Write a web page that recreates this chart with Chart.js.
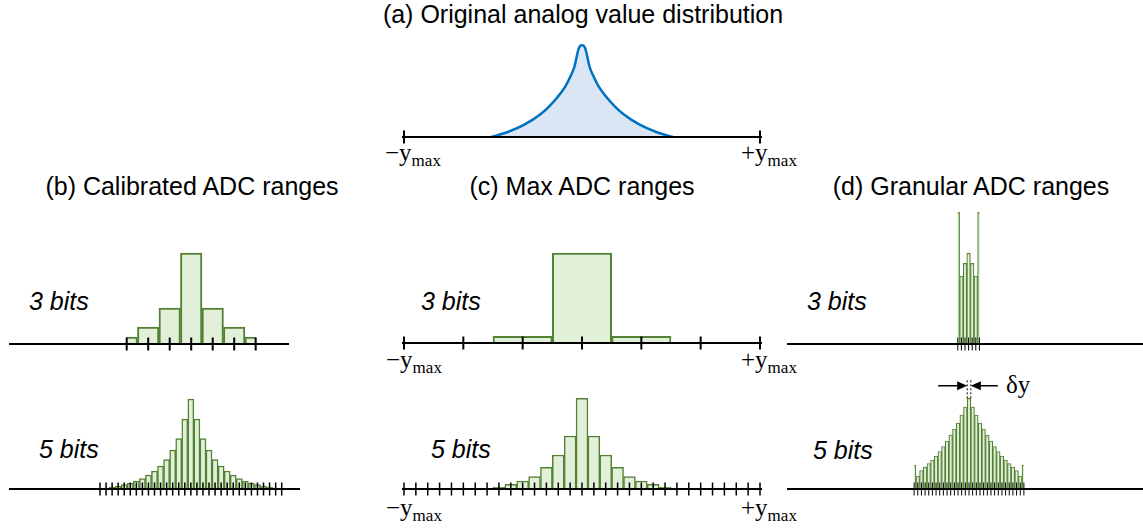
<!DOCTYPE html>
<html>
<head>
<meta charset="utf-8">
<script src="https://cdn.jsdelivr.net/npm/chart.js@4.4.1/dist/chart.umd.min.js"></script>
<style>
  body { margin: 0; background: #fff; }
  #page { position: relative; width: 1143px; height: 529px; overflow: hidden; font-family: "Liberation Sans", Arial, sans-serif; color: #000; }
  .box { position: absolute; }
  .title { position: absolute; font-size: 25px; line-height: 25px; white-space: nowrap; transform: translateX(-50%); }
  .bits { position: absolute; font-size: 25px; line-height: 25px; font-style: italic; white-space: nowrap; }
  .ym { position: absolute; font-family: "Liberation Serif", "Times New Roman", serif; font-size: 25px; line-height: 25px; white-space: nowrap; }
  .ym sub { font-size: 17px; vertical-align: baseline; position: relative; top: 5px; }
</style>
</head>
<body>
<div id="page">
  <div class="title" style="left:583px; top:2px">(a) Original analog value distribution</div>
  <div class="title" style="left:192px; top:174px">(b) Calibrated ADC ranges</div>
  <div class="title" style="left:582px; top:174px">(c) Max ADC ranges</div>
  <div class="title" style="left:971px; top:174px">(d) Granular ADC ranges</div>

  <div class="bits" style="left:29px; top:289px">3 bits</div>
  <div class="bits" style="left:421px; top:289px">3 bits</div>
  <div class="bits" style="left:807px; top:289px">3 bits</div>
  <div class="bits" style="left:39px; top:437px">5 bits</div>
  <div class="bits" style="left:431px; top:437px">5 bits</div>
  <div class="bits" style="left:813px; top:438px">5 bits</div>

  <div class="ym" style="left:385px; top:140px">−y<sub>max</sub></div>
  <div class="ym" style="left:741px; top:140px">+y<sub>max</sub></div>
  <div class="ym" style="left:386px; top:347px">−y<sub>max</sub></div>
  <div class="ym" style="left:741px; top:347px">+y<sub>max</sub></div>
  <div class="ym" style="left:386px; top:495px">−y<sub>max</sub></div>
  <div class="ym" style="left:741px; top:495px">+y<sub>max</sub></div>
  <div class="ym" style="left:1006px; top:372px; font-size:25px">δy</div>

  <div class="box" id="boxA"><canvas id="chartA"></canvas></div>
  <div class="box" id="boxB3"><canvas id="chartB3"></canvas></div>
  <div class="box" id="boxB5"><canvas id="chartB5"></canvas></div>
  <div class="box" id="boxC3"><canvas id="chartC3"></canvas></div>
  <div class="box" id="boxC5"><canvas id="chartC5"></canvas></div>
  <div class="box" id="boxD3"><canvas id="chartD3"></canvas></div>
  <div class="box" id="boxD5"><canvas id="chartD5"></canvas></div>
</div>
<script>
// (a) analog distribution, x in units of y_max
const analogX = [-0.511, -0.417, -0.324, -0.23, -0.184, -0.137, -0.09, -0.062, -0.043, -0.034, -0.024, -0.015, 0,
  0.015, 0.024, 0.034, 0.043, 0.062, 0.09, 0.137, 0.184, 0.23, 0.324, 0.417, 0.511]
const analogY = [0, 5, 12.3, 23.3, 30.7, 40, 51.7, 61.7, 70, 76.7, 85, 90, 91.7,
  90, 85, 76.7, 70, 61.7, 51.7, 40, 30.7, 23.3, 12.3, 5, 0]

// quantization levels
const levels3 = [-3, -2, -1, 0, 1, 2, 3]
const levels5 = [-15, -14, -13, -12, -11, -10, -9, -8, -7, -6, -5, -4, -3, -2, -1, 0,
  1, 2, 3, 4, 5, 6, 7, 8, 9, 10, 11, 12, 13, 14, 15]

// (b) calibrated
const calib3 = [7, 17, 36, 91, 36, 17, 7]
const calib5 = [0.5, 1, 2, 3, 4.5, 6, 8, 10.5, 14, 18, 23, 29.5, 39, 50.5, 70, 90,
  70, 50.5, 39, 29.5, 23, 18, 14, 10.5, 8, 6, 4.5, 3, 2, 1, 0.5]

// (c) max range
const max3 = [0, 0, 6.7, 90, 6.7, 0, 0]
const max5 = [0, 0, 0, 0, 0, 0, 0, 0, 2, 4.7, 8, 12.3, 21.7, 34, 53, 90.7,
  53, 34, 21.7, 12.3, 8, 4.7, 2, 0, 0, 0, 0, 0, 0, 0, 0]

// (d) granular
const gran3 = [131.7, 68, 80.7, 90.7, 80.7, 68, 131.7]
const gran5 = [24, 13, 18.5, 22, 25.5, 29, 33, 37.5, 42.5, 48, 54, 60, 66, 74, 82, 90.7,
  82, 74, 66, 60, 54, 48, 42.5, 37.5, 33, 29, 25.5, 22, 18.5, 13, 24]

const GREEN = '#548235'
const GREEN_FILL = '#e2f0d9'

const axisMarks = (ticks, tickWidth) => ({
  id: 'axisMarks',
  afterDatasetsDraw(chart) {
    const ctx = chart.ctx
    const x = chart.scales.x
    const y0 = chart.scales.y.getPixelForValue(0)
    ctx.save()
    ctx.strokeStyle = '#000'
    ctx.lineWidth = 2
    ctx.beginPath()
    ctx.moveTo(0, y0)
    ctx.lineTo(chart.width, y0)
    ctx.stroke()
    ctx.lineWidth = tickWidth
    ctx.beginPath()
    ticks.forEach(v => {
      const px = x.getPixelForValue(v)
      ctx.moveTo(px, y0 - 6.5)
      ctx.lineTo(px, y0 + 6.5)
    })
    ctx.stroke()
    ctx.restore()
  }
})

// arrows + dashed lines showing the bin width in (d) 5 bits
const deltaMark = {
  id: 'deltaMark',
  afterDatasetsDraw(chart) {
    const ctx = chart.ctx
    const x = chart.scales.x, y = chart.scales.y
    const xl = x.getPixelForValue(-0.5), xr = x.getPixelForValue(0.5)
    const barTop = y.getPixelForValue(gran5[15])
    const top = barTop - 18
    const ay = barTop - 12.5
    ctx.save()
    ctx.strokeStyle = '#000'
    ctx.fillStyle = '#000'
    ctx.lineWidth = 1
    ctx.setLineDash([2, 2])
    ctx.beginPath()
    ctx.moveTo(xl, top); ctx.lineTo(xl, barTop)
    ctx.moveTo(xr, top); ctx.lineTo(xr, barTop)
    ctx.stroke()
    ctx.setLineDash([])
    ctx.lineWidth = 1.5
    ctx.beginPath()
    ctx.moveTo(xl - 29, ay); ctx.lineTo(xl - 6, ay)
    ctx.moveTo(xr + 27, ay); ctx.lineTo(xr + 6, ay)
    ctx.stroke()
    ctx.beginPath()
    ctx.moveTo(xl, ay); ctx.lineTo(xl - 10, ay - 4.5); ctx.lineTo(xl - 10, ay + 4.5); ctx.closePath()
    ctx.moveTo(xr, ay); ctx.lineTo(xr + 10, ay - 4.5); ctx.lineTo(xr + 10, ay + 4.5); ctx.closePath()
    ctx.fill()
    ctx.restore()
  }
}

const barSet = (levels, values, bw) => ({
  data: levels.map((l, i) => ({ x: l, y: values[i] })),
  backgroundColor: GREEN_FILL,
  borderColor: GREEN,
  borderWidth: bw,
  borderSkipped: 'start',
  barPercentage: 1,
  categoryPercentage: 1
})

// L/R = axis line ends, Y = baseline, xMin/xMax land on pxMin/pxMax
function panel(id, L, R, Y, xMin, pxMin, xMax, pxMax, type, dataset, ticks, tickWidth, extra) {
  const box = document.getElementById('box' + id)
  box.style.left = L + 'px'
  box.style.top = (Y - 150) + 'px'
  box.style.width = (R - L) + 'px'
  box.style.height = '165px'
  const plugins = [axisMarks(ticks, tickWidth)]
  if (extra) plugins.push(extra)
  return new Chart(document.getElementById('chart' + id), {
    type: type,
    data: { datasets: [dataset] },
    options: {
      responsive: true,
      maintainAspectRatio: false,
      animation: false,
      events: [],
      layout: { padding: { left: pxMin - L, right: R - pxMax, top: 0, bottom: 15 } },
      scales: {
        x: {
          type: 'linear', min: xMin, max: xMax, display: false, offset: false,
          grid: { offset: false },
          ticks: { stepSize: 1, includeBounds: false }
        },
        y: { min: 0, max: 150, display: false }
      },
      plugins: { legend: { display: false }, tooltip: { enabled: false } }
    },
    plugins: plugins
  })
}

panel('A', 402, 762, 137, -1, 404, 1, 760, 'line', {
  data: analogX.map((v, i) => ({ x: v, y: analogY[i] })),
  borderColor: '#0070c0',
  borderWidth: 2.5,
  backgroundColor: '#dae6f4',
  fill: 'origin',
  pointRadius: 0,
  cubicInterpolationMode: 'monotone'
}, [-1, 1], 2)

panel('B3', 9, 289, 344, -3, 126.7, 3, 255.7, 'bar', barSet(levels3, calib3, 2), levels3, 2)
panel('B5', 9, 300, 489, -15, 100, 15, 281.7, 'bar', barSet(levels5, calib5, 1.5), levels5, 1.5)
panel('C3', 402, 762, 343, -3, 404, 3, 760, 'bar', barSet(levels3, max3, 2), levels3, 2)
panel('C5', 402, 762, 489, -15, 404, 15, 760, 'bar', barSet(levels5, max5, 1.5), levels5, 1.5)
panel('D3', 787, 1143, 344, -3, 957.8, 3, 979.4, 'bar', barSet(levels3, gran3, 1.2), levels3, 1)
panel('D5', 787, 1143, 489, -15, 914.1, 15, 1023.9, 'bar', barSet(levels5, gran5, 1.2), levels5, 1, deltaMark)
</script>
</body>
</html>
